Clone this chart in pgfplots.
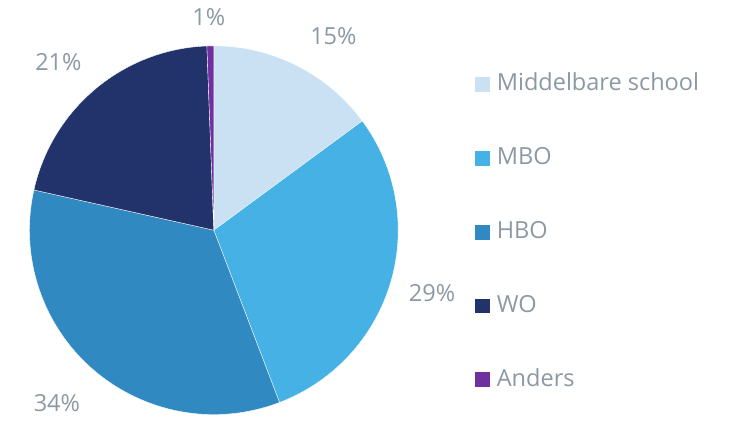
\documentclass[border=0pt]{standalone}
\usepackage{fontspec}
\setmainfont{Open Sans}
\usepackage{pgfplots}
\pgfplotsset{compat=1.18}
\usepackage{pgfplotstable}

\definecolor{slice0}{HTML}{C9E1F3}
\definecolor{slice1}{HTML}{46B1E5}
\definecolor{slice2}{HTML}{3189C2}
\definecolor{slice3}{HTML}{22336C}
\definecolor{slice4}{HTML}{7030A0}
\definecolor{txtgray}{HTML}{8C98A4}

% share of each group (%), clockwise from 12 o'clock
\pgfplotstableread{
name value
Middelbare 14.9
MBO 29.3
HBO 34.3
WO 20.9
Anders 0.6
}\piedata

\begin{document}
% start / end angle of every slice
\def\acc{0}
\foreach \i in {0,...,4}{%
  \pgfplotstablegetelem{\i}{value}\of\piedata
  \pgfmathsetmacro\a{90-3.6*\acc}%
  \pgfmathsetmacro\newacc{\acc+\pgfplotsretval}%
  \pgfmathsetmacro\b{90-3.6*\newacc}%
  \expandafter\xdef\csname sa\i\endcsname{\a}%
  \expandafter\xdef\csname sb\i\endcsname{\b}%
  \xdef\acc{\newacc}%
}%
\begin{tikzpicture}
\begin{axis}[
  scale only axis, width=730bp, height=422bp,
  xmin=0, xmax=730, ymin=0, ymax=422,
  hide axis, clip=false,
  font=\fontsize{23.6bp}{28bp}\selectfont,
  legend image code/.code={\fill[#1] (0bp,-7.5bp) rectangle (15bp,7.5bp);},
  legend cell align=left,
  legend style={draw=none, fill=none, inner sep=0pt, outer sep=0pt,
    at={(axis cs:474,349)}, anchor=north west, text=txtgray,
    font=\fontsize{23.6bp}{28bp}\selectfont,
    row sep=51.2bp,
    /tikz/every odd column/.append style={column sep=7bp},
    nodes={inner sep=0pt, text height=18bp, text depth=5bp}},
]
\pgfplotsinvokeforeach{0,...,4}{
  \fill[slice#1, draw=white, line width=0.35bp]
    (axis cs:212,191)
    -- (axis cs:{212+185*cos(\csname sa#1\endcsname)},{191+185*sin(\csname sa#1\endcsname)})
    arc[start angle=\csname sa#1\endcsname, end angle=\csname sb#1\endcsname, radius=185bp]
    -- cycle;
}
\addlegendimage{fill=slice0, draw=none}\addlegendentry{Middelbare school}
\addlegendimage{fill=slice1, draw=none}\addlegendentry{MBO}
\addlegendimage{fill=slice2, draw=none}\addlegendentry{HBO}
\addlegendimage{fill=slice3, draw=none}\addlegendentry{WO}
\addlegendimage{fill=slice4, draw=none}\addlegendentry{Anders}

\begin{scope}[every node/.style={anchor=base, text=txtgray, inner sep=0pt}]
\node at (axis cs:332,377) {15\%};
\node at (axis cs:431,119) {29\%};
\node at (axis cs:54.5,9) {34\%};
\node at (axis cs:56,351) {21\%};
\node at (axis cs:207,396) {1\%};
\end{scope}
\end{axis}
\pgfresetboundingbox
\path (current axis.south west) rectangle (current axis.north east);
\end{tikzpicture}
\end{document}
